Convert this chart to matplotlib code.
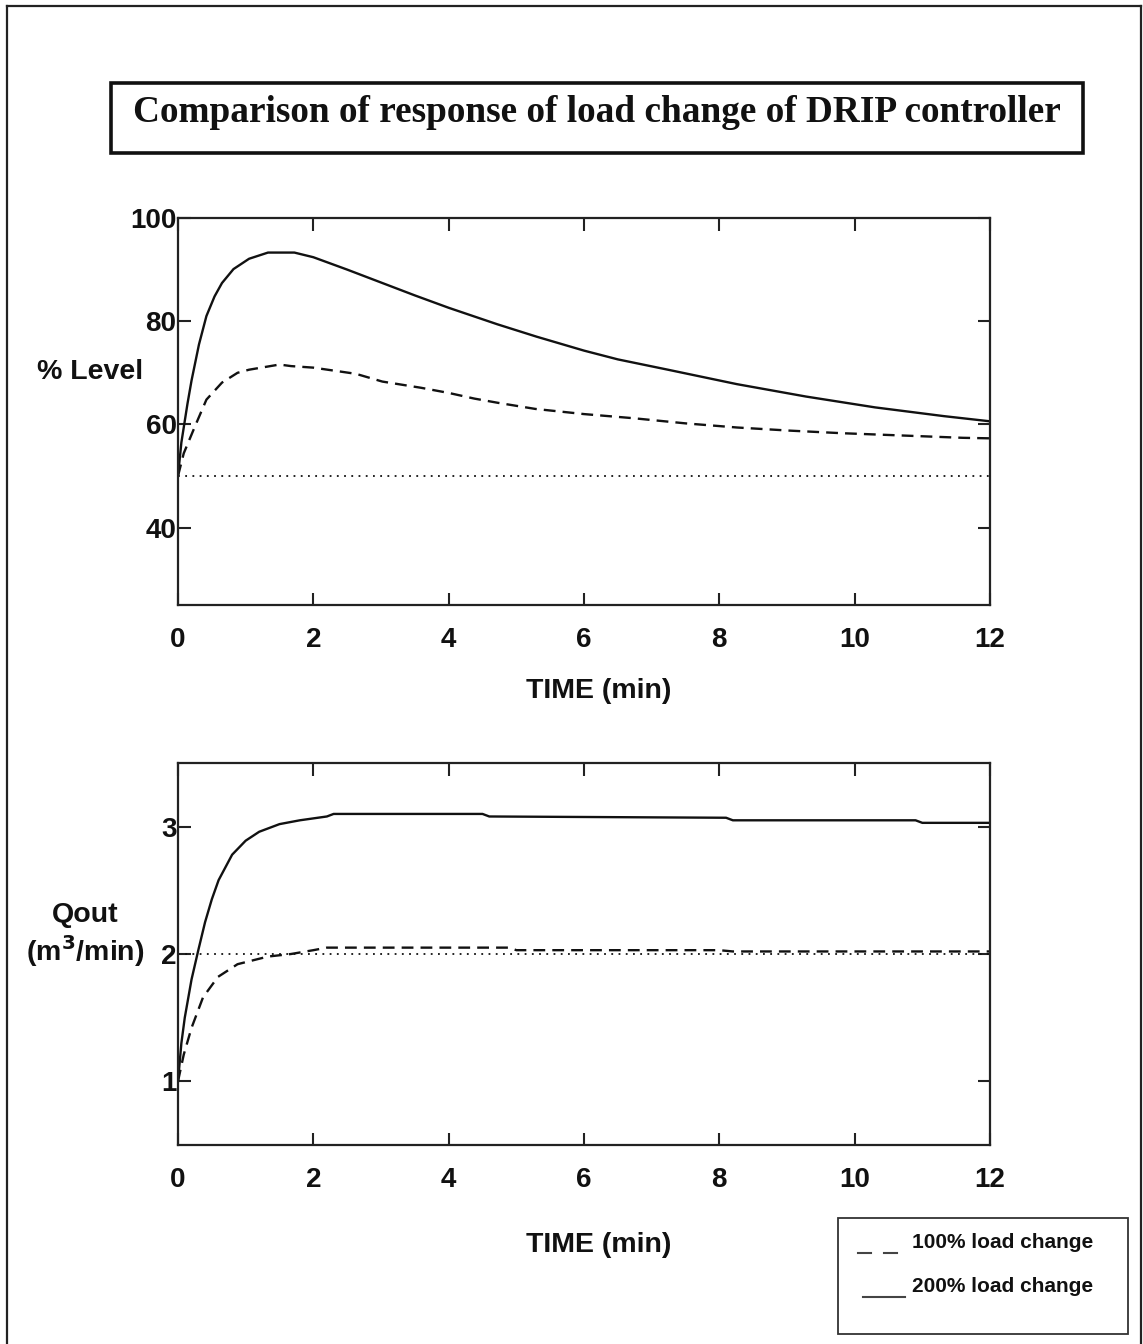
import matplotlib
matplotlib.use("Agg")
import matplotlib.pyplot as plt
from matplotlib.patches import Rectangle
from matplotlib.lines import Line2D

W, H = 1143, 1344
DPI = 100

# ---------------- data ----------------
level_t_200 = [0, 0.05, 0.14, 0.2, 0.31, 0.42, 0.54, 0.65, 0.82, 1.05, 1.33, 1.72, 2.0, 2.5, 3.0, 3.5,
               4.0, 4.72, 5.3, 6.0, 6.5, 7.24, 8.26, 9.28, 10.3, 11.32, 12]
level_v_200 = [50, 56.5, 64, 68.5, 75.5, 81, 84.8, 87.4, 90.1, 92.1, 93.3, 93.3, 92.4, 90.0, 87.5, 85.0,
               82.6, 79.4, 77.0, 74.3, 72.6, 70.6, 67.8, 65.4, 63.3, 61.6, 60.6]

level_t_100 = [0, 0.085, 0.25, 0.42, 0.65, 0.88, 1.05, 1.5, 1.67, 2.0, 2.63, 3.02, 3.59, 4.0, 4.38, 4.72,
               5.28, 6.0, 6.73, 7.5, 8.26, 9.03, 9.8, 10.6, 11.6, 12]
level_v_100 = [50, 54.4, 59.6, 64.8, 68.1, 70.0, 70.6, 71.6, 71.3, 71.0, 69.8, 68.3, 67.1, 66.1, 65.0, 64.2,
               63.0, 62.0, 61.2, 60.2, 59.4, 58.8, 58.3, 57.9, 57.4, 57.3]

level_setpoint = 50

q_t_200 = [0, 0.05, 0.1, 0.2, 0.3, 0.4, 0.5, 0.6, 0.8, 1.0, 1.2, 1.5, 1.8, 2.2, 2.3, 4.5, 4.6, 8.1, 8.2,
           10.9, 11.0, 12]
q_v_200 = [1.0, 1.3, 1.5, 1.8, 2.03, 2.25, 2.43, 2.58, 2.78, 2.89, 2.96, 3.02, 3.05, 3.08, 3.1, 3.1, 3.08,
           3.07, 3.05, 3.05, 3.03, 3.03]

q_t_100 = [0, 0.085, 0.2, 0.37, 0.59, 0.88, 1.33, 1.67, 2.0, 2.2, 4.9, 5.0, 8.0, 8.2, 12]
q_v_100 = [1.0, 1.21, 1.42, 1.66, 1.82, 1.92, 1.98, 2.0, 2.03, 2.05, 2.05, 2.03, 2.03, 2.02, 2.02]

q_setpoint = 2.0

x_ticks = [0, 2, 4, 6, 8, 10, 12]
level_ticks = [40, 60, 80, 100]
q_ticks = [1, 2, 3]

title_text = "Comparison of response of load change of DRIP controller"
xlabel_text = "TIME (min)"
legend_labels = ["100% load change", "200% load change"]

# ---------------- figure ----------------
plt.rcParams['font.family'] = ['Liberation Sans', 'DejaVu Sans']
fig = plt.figure(figsize=(W / DPI, H / DPI), dpi=DPI)


def fx(px):
    return px / W


def fy(py):
    return 1 - py / H


def add_axes_px(l, t, r, b):
    return fig.add_axes([fx(l), fy(b), fx(r) - fx(l), fy(t) - fy(b)])


def style_axes(ax):
    for s in ax.spines.values():
        s.set_linewidth(1.6)
        s.set_color('#222222')
    ax.tick_params(direction='in', length=9, width=1.5, top=True, right=True,
                   labelsize=20, pad=16, colors='#222222')
    ax.tick_params(axis='y', pad=1)
    for lab in ax.get_xticklabels() + ax.get_yticklabels():
        lab.set_fontweight('bold')
        lab.set_color('#111111')


# top axes
ax1 = add_axes_px(178, 218, 990, 605)
ax1.plot(level_t_200, level_v_200, color='#111111', lw=1.7, ls='-')
ax1.plot(level_t_100, level_v_100, color='#111111', lw=1.7, ls=(0, (5, 3)))
ax1.axhline(level_setpoint, color='#111111', lw=1.3, ls=(0, (1, 3)))
ax1.set_xlim(0, 12)
ax1.set_ylim(25, 100)
ax1.set_xticks(x_ticks)
ax1.set_yticks(level_ticks)
style_axes(ax1)

# bottom axes
ax2 = add_axes_px(178, 763, 990, 1145)
ax2.plot(q_t_200, q_v_200, color='#111111', lw=1.7, ls='-')
ax2.plot(q_t_100, q_v_100, color='#111111', lw=1.7, ls=(0, (5, 3)))
ax2.axhline(q_setpoint, color='#111111', lw=1.3, ls=(0, (1, 3)))
ax2.set_xlim(0, 12)
ax2.set_ylim(0.5, 3.5)
ax2.set_xticks(x_ticks)
ax2.set_yticks(q_ticks)
style_axes(ax2)

# axis labels
lab_kw = dict(ha='center', va='center', fontsize=20.5, fontweight='bold', color='#111111')
fig.text(fx(599), fy(691), xlabel_text, **lab_kw)
fig.text(fx(599), fy(1245), xlabel_text, **lab_kw)
fig.text(fx(90), fy(372), "% Level", **lab_kw)
fig.text(fx(85), fy(915), "Qout", **lab_kw)
fig.text(fx(85), fy(951), r"(m$^{\mathbf{3}}$/min)", **lab_kw)

# title box
fig.patches.append(Rectangle((fx(111), fy(153)), fx(1083) - fx(111), fy(83) - fy(153),
                             transform=fig.transFigure, fill=False, lw=2.6, ec='#111111'))
fig.text(fx(597), fy(113), title_text, ha='center', va='center', fontsize=26.8, fontweight='bold',
         family=['Liberation Serif', 'DejaVu Serif'], color='#111111')

# outer frame (three sides visible)
frame_kw = dict(transform=fig.transFigure, color='#222222', lw=1.6)
fig.lines.append(Line2D([fx(7), fx(7)], [fy(6), fy(1350)], **frame_kw))
fig.lines.append(Line2D([fx(7), fx(1141)], [fy(6), fy(6)], **frame_kw))
fig.lines.append(Line2D([fx(1141), fx(1141)], [fy(6), fy(1350)], **frame_kw))

# legend box
fig.patches.append(Rectangle((fx(838), fy(1334)), fx(1128) - fx(838), fy(1218) - fy(1334),
                             transform=fig.transFigure, fill=False, lw=1.3, ec='#333333'))
sym_kw = dict(transform=fig.transFigure, color='#444444', lw=1.5)
fig.lines.append(Line2D([fx(858), fx(871)], [fy(1253), fy(1253)], **sym_kw))
fig.lines.append(Line2D([fx(884), fx(897)], [fy(1253), fy(1253)], **sym_kw))
fig.lines.append(Line2D([fx(863), fx(905)], [fy(1297), fy(1297)], **sym_kw))
fig.text(fx(912), fy(1243), legend_labels[0], ha='left', va='center', fontsize=15, fontweight='bold',
         color='#111111')
fig.text(fx(912), fy(1287), legend_labels[1], ha='left', va='center', fontsize=15, fontweight='bold',
         color='#111111')

fig.savefig("out.png", dpi=DPI)
